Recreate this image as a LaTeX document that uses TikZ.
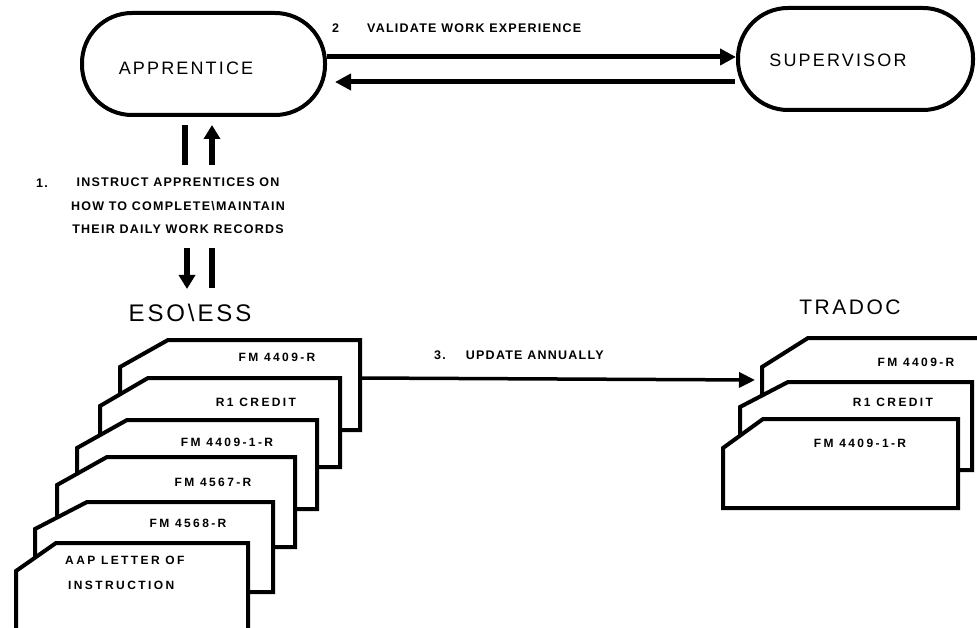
\documentclass[tikz,border=0pt]{standalone}
\usepackage{fontspec}
\setmainfont{Liberation Sans}
\newfontfamily\plotb[LetterSpace=10]{Liberation Sans Bold}
\newfontfamily\plotc[LetterSpace=20]{Liberation Sans Bold}
\newfontfamily\plotr[LetterSpace=12]{Liberation Sans}
\usetikzlibrary{arrows.meta}
\tikzset{
  stadium/.style={draw, line width=4pt, rounded corners=50pt, minimum width=#1, minimum height=102pt, inner sep=0pt},
  bigtext/.style={font=\plotr\fontsize{18}{20}\selectfont, inner sep=0pt},
  headtext/.style={font=\plotr\fontsize{#1}{#1}\selectfont, inner sep=0pt},
  smalltext/.style={font=\plotb\fontsize{12.5}{23.5}\selectfont, inner sep=0pt},
  cardtext/.style={font=\plotc\fontsize{12}{25}\selectfont, inner sep=0pt},
  harrow/.style={line width=5pt, -{Triangle[length=16pt,width=16pt]}},
  varrow/.style={line width=6pt, -{Triangle[length=14pt,width=16pt]}},
  vline/.style={line width=6pt},
  updarrow/.style={line width=3.5pt, -{Triangle[length=16pt,width=15pt]}},
  cardline/.style={draw, fill=white, line width=4pt, line join=miter},
}
\newcommand\mycard[6]{\draw[cardline] (#1,#4) -- (#1,#2+#6) -- (#1+#5,#2) -- (#3,#2) -- (#3,#4) -- cycle;}
\begin{document}
\begin{tikzpicture}[x=1pt,y=-1pt]
\useasboundingbox (0,0) rectangle (977,628);
\clip (0,0) rectangle (977,628);
\fill[white] (0,0) rectangle (977,628);

% top process shapes
\node[stadium=243pt] (app) at (203.5,64) {};
\node[bigtext] (appt) at (186,68) {APPRENTICE};
\node[stadium=235pt] (sup) at (855.5,59) {};
\node[bigtext] (supt) at (838,60) {SUPERVISOR};

% validate arrows
\draw[harrow] ([yshift=7pt]app.east) -- ([yshift=7pt]app.east -| sup.west);
\draw[harrow] ([yshift=-18pt,xshift=-1pt]app.east -| sup.west) -- ([yshift=-18pt,xshift=8pt]app.east);
\node[smalltext, anchor=west] (lab2) at (332,28) {2\hspace{28pt}VALIDATE WORK EXPERIENCE};

% instruction label
\node[smalltext, anchor=west] (lab1n) at (36,183) {1.};
\node[smalltext, align=center] (lab1) at (178,206) {INSTRUCT APPRENTICES ON\\HOW TO COMPLETE\textbackslash MAINTAIN\\THEIR DAILY WORK RECORDS};

% headings
\node[headtext=24] (eso) at (190,313) {ESO\textbackslash ESS};
\node[headtext=21] (trad) at (850,307) {TRADOC};

% vertical arrows
\draw[vline] ([xshift=-18.5pt,yshift=-8pt]app.south) -- ([xshift=-18.5pt,yshift=-48pt]app.south);
\draw[varrow] ([xshift=8.5pt,yshift=-48pt]app.south) -- ([xshift=8.5pt,yshift=-8pt]app.south);
\draw[varrow] ([xshift=-3pt,yshift=65pt]eso.center) -- ([xshift=-3pt,yshift=24pt]eso.center);
\draw[vline] ([xshift=22pt,yshift=65pt]eso.center) -- ([xshift=22pt,yshift=25pt]eso.center);

% ESO/ESS cards (back to front)
\mycard{120}{340}{360}{430}{48}{27}
\mycard{100}{378}{340}{467}{48}{28}
\mycard{77}{420}{317}{509}{50}{28}
\mycard{57}{457}{295}{547}{50}{28}
\mycard{35}{502}{273}{592}{52}{27}
\mycard{16}{543}{248}{645}{40}{28}
\node[cardtext] (c1) at (277,357) {FM 4409-R};
\node[cardtext] (c2) at (256,402) {R1 CREDIT};
\node[cardtext] (c3) at (227,442) {FM 4409-1-R};
\node[cardtext] (c4) at (213,482) {FM 4567-R};
\node[cardtext] (c5) at (188,523) {FM 4568-R};
\node[cardtext, align=left, anchor=north west] (c6) at (65,556) {AAP LETTER OF\\\hspace{3pt}INSTRUCTION};

% TRADOC cards (first one runs off the right edge)
\fill[white] (762,450) -- (762,367) -- (808,338) -- (1000,338) -- (1000,450) -- cycle;
\draw[line width=4pt, line join=miter] (762,450) -- (762,367) -- (808,338) -- (1000,338);
\mycard{740}{382}{972}{470}{48}{25}
\mycard{723}{419}{958}{508}{40}{29}
\node[cardtext] (t1) at (916,362) {FM 4409-R};
\node[cardtext] (t2) at (893,402) {R1 CREDIT};
\node[cardtext] (t3) at (860,443) {FM 4409-1-R};

% update arrow
\coordinate (esoR) at (360,378);
\coordinate (tradL) at (755,380);
\draw[updarrow] (esoR) -- (tradL);
\node[smalltext, anchor=west] (lab3) at (434,355) {3.\hspace{20pt}UPDATE ANNUALLY};
\end{tikzpicture}
\end{document}
